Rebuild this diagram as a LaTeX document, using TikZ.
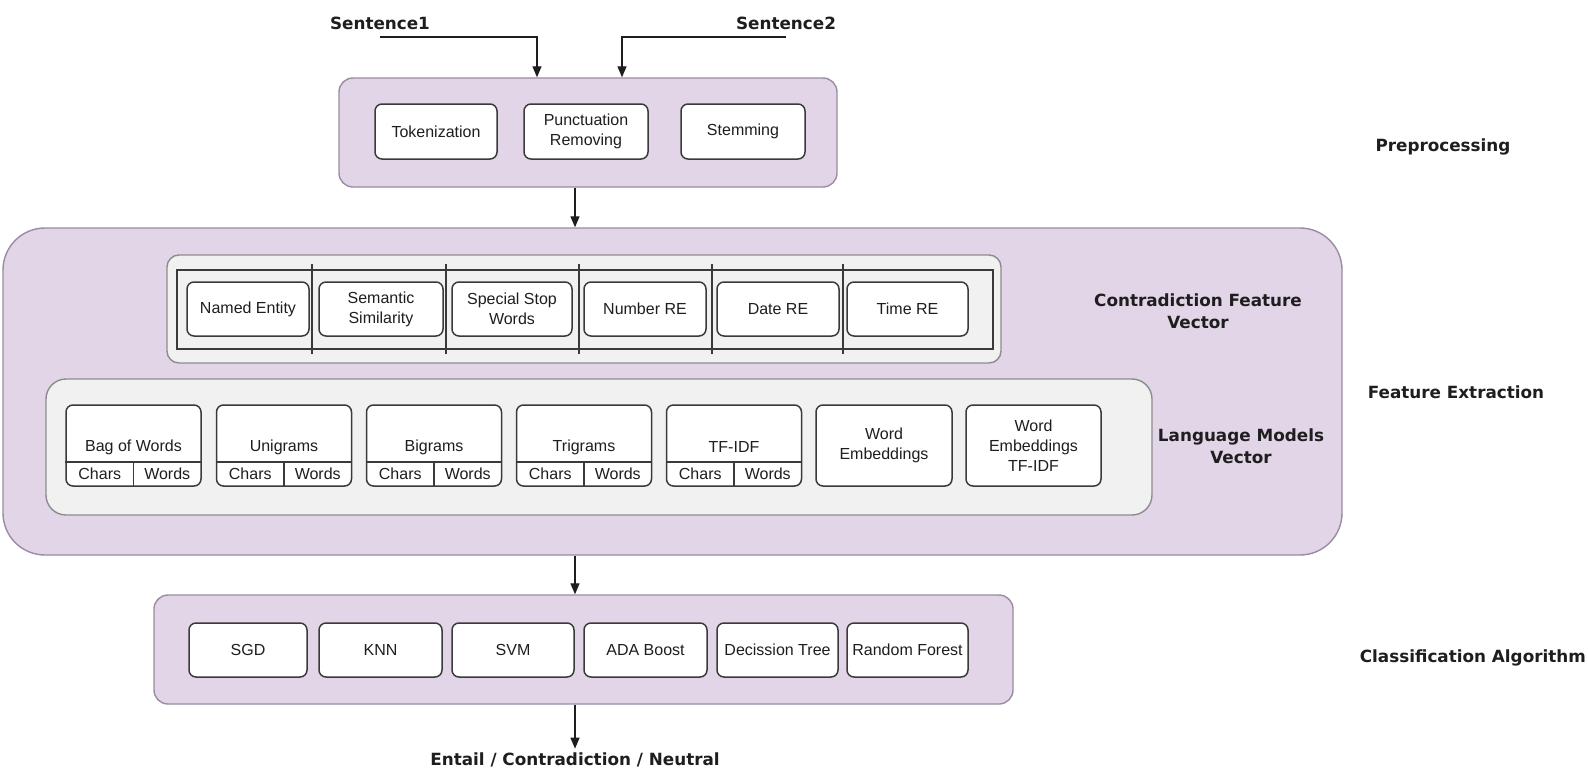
\documentclass[tikz,border=0pt]{standalone}
\usepackage{fontspec}
\setmainfont{Liberation Sans}
\newfontfamily\labfont{DejaVu Sans}
\usetikzlibrary{arrows.meta}
\definecolor{purp}{HTML}{E1D5E7}
\definecolor{purpdraw}{HTML}{9A8CA2}
\definecolor{grayfill}{HTML}{F1F1F1}
\definecolor{graydraw}{HTML}{8C8C8C}
\definecolor{boxdraw}{HTML}{3A3A3A}
\definecolor{ink}{HTML}{1E1E1E}
\tikzset{
  outerbox/.style={draw=purpdraw, fill=purp, line width=1.4pt, rounded corners=14pt, inner sep=0pt},
  graybox/.style={draw=graydraw, fill=grayfill, line width=1.4pt, rounded corners=12pt, inner sep=0pt},
  wbox/.style={draw=boxdraw, fill=white, line width=1.5pt, rounded corners=7pt, inner sep=0pt, align=center, text=ink, font=\fontsize{16}{20}\selectfont},
  txt/.style={inner sep=0pt, align=center, text=ink, font=\fontsize{16}{20}\selectfont},
  lab/.style={inner sep=0pt, align=center, text=ink, font=\labfont\bfseries\fontsize{16.8}{22}\selectfont},
  arr/.style={draw=ink, line width=1.3pt, -{Triangle[length=11pt,width=9pt]}},
  thin/.style={draw=boxdraw, line width=1.5pt},
}
\begin{document}
\begin{tikzpicture}[x=1pt,y=-1pt]
\useasboundingbox[fill=white] (0,0) rectangle (1588,771);

% ---------- Preprocessing ----------
\node[lab] (s1) at (380,23) {Sentence1};
\node[lab] (s2) at (786,23) {Sentence2};
\node[outerbox, minimum width=498pt, minimum height=109pt] (pp) at (588,132.5) {};
\node[wbox, minimum width=122pt, minimum height=55pt] (tok) at (436,131.5) {Tokenization};
\node[wbox, minimum width=124pt, minimum height=55pt] (punc) at (586,131.5) {Punctuation\\Removing};
\node[wbox, minimum width=124pt, minimum height=55pt] (stem) at (743,131.5) {Stemming};
\draw[arr] ([yshift=-14pt]s1.center) -| ([xshift=-51pt]pp.north);
\draw[arr] ([yshift=-14pt]s2.center) -| ([xshift=34pt]pp.north);

% ---------- Feature Extraction ----------
\node[outerbox, rounded corners=42pt, minimum width=1339pt, minimum height=327pt] (fe) at (672.5,391.5) {};
\draw[arr] ([xshift=-13pt]pp.south) -- ([xshift=-13pt]pp.south |- fe.north);

\node[graybox, minimum width=834pt, minimum height=108pt] (cf) at (584,309) {};
\node[draw=boxdraw, line width=1.6pt, minimum width=816pt, minimum height=79pt, inner sep=0pt] (tbl) at (585,309.5) {};
\foreach \xx in {312,446,579,712,843} \draw[thin] (\xx,264) -- (\xx,354);
\node[wbox, minimum width=122pt, minimum height=54pt] (ne) at (248,309) {Named Entity};
\node[wbox, minimum width=124pt, minimum height=54pt] (sem) at (381,309) {Semantic\\Similarity};
\node[wbox, minimum width=120pt, minimum height=54pt] (ssw) at (512,309) {Special Stop\\Words};
\node[wbox, minimum width=122pt, minimum height=54pt] (num) at (645,309) {Number RE};
\node[wbox, minimum width=122pt, minimum height=54pt] (date) at (778,309) {Date RE};
\node[wbox, minimum width=121pt, minimum height=54pt] (time) at (907.5,309) {Time RE};
\node[lab] (cfv) at (1198,311) {Contradiction Feature\\Vector};

\node[graybox, rounded corners=20pt, minimum width=1106pt, minimum height=136pt] (lm) at (599,447) {};
\foreach \nm/\cx/\tt in {bow/133.5/Bag of Words, uni/284/Unigrams, bi/434/Bigrams, tri/584/Trigrams, tfidf/734/TF-IDF}{
  \node[wbox, minimum width=135pt, minimum height=81pt] (\nm) at (\cx,445.5) {};
  \draw[thin] ([yshift=-16.5pt]\nm.west) -- ([yshift=-16.5pt]\nm.east);
  \draw[thin] ([yshift=-16.5pt]\nm.center) -- (\nm.south);
  \node[txt] (\nm-l) at ([yshift=-1.5pt]\nm.center) {\tt};
  \node[txt] (\nm-c) at ([xshift=-33.75pt,yshift=-28.5pt]\nm.center) {Chars};
  \node[txt] (\nm-w) at ([xshift=33.75pt,yshift=-28.5pt]\nm.center) {Words};
}
\node[wbox, minimum width=136pt, minimum height=81pt] (we) at (884,445.5) {Word\\Embeddings};
\node[wbox, minimum width=135pt, minimum height=81pt] (wetf) at (1033.5,445.5) {Word\\Embeddings\\TF-IDF};
\node[lab] (lmv) at (1241,446) {Language Models\\Vector};

% ---------- Classification ----------
\node[outerbox, minimum width=859pt, minimum height=109pt] (ca) at (583.5,649.5) {};
\draw[arr] ([xshift=-8.5pt]ca.north |- fe.south) -- ([xshift=-8.5pt]ca.north);
\node[wbox, minimum width=118pt, minimum height=54pt] (sgd) at (248,650) {SGD};
\node[wbox, minimum width=123pt, minimum height=54pt] (knn) at (380.5,650) {KNN};
\node[wbox, minimum width=122pt, minimum height=54pt] (svm) at (513,650) {SVM};
\node[wbox, minimum width=123pt, minimum height=54pt] (ada) at (645.5,650) {ADA Boost};
\node[wbox, minimum width=121pt, minimum height=54pt] (dt) at (777.5,650) {Decission Tree};
\node[wbox, minimum width=121pt, minimum height=54pt] (rf) at (907.5,650) {Random Forest};

\node[lab] (out) at (575,760) {Entail / Contradiction / Neutral};
\draw[arr] (ca.south -| out.north) -- ([yshift=4pt]out.north);

% ---------- Side labels ----------
\node[lab] (lpp) at (1443,147) {Preprocessing};
\node[lab] (lfe) at (1456,392) {Feature Extraction};
\node[lab, anchor=east] (lca) at (1586,658) {Classification Algorithm};
\end{tikzpicture}
\end{document}
